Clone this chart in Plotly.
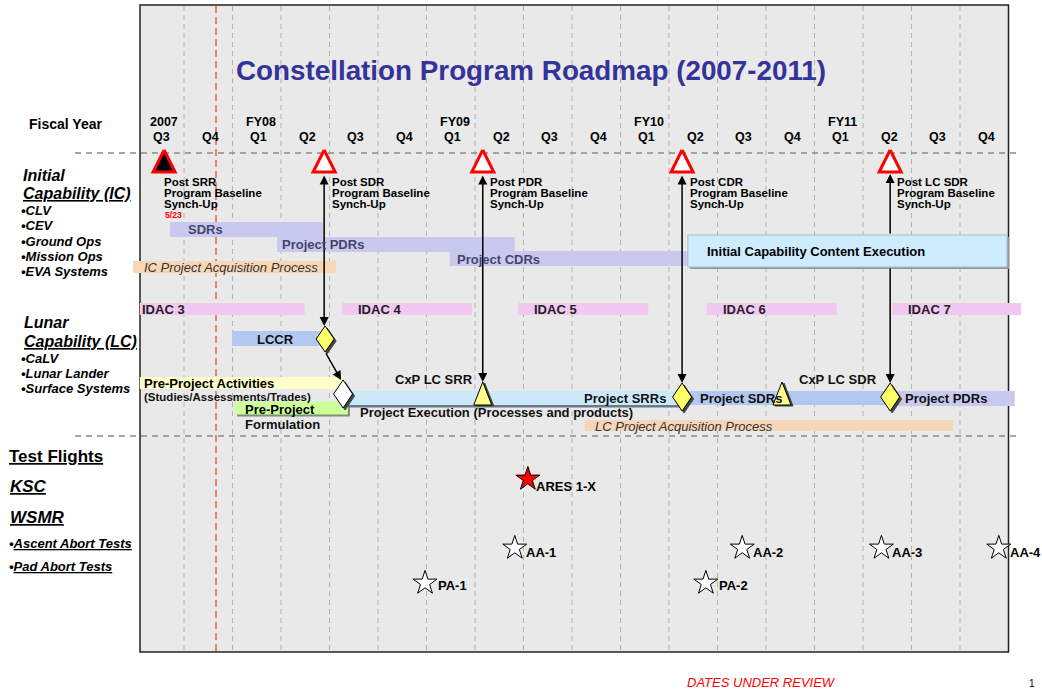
import plotly.graph_objects as go

FONT = "Liberation Sans, Arial, Helvetica, sans-serif"
W, H = 1042, 689
X0, PX = 135.5, 48.5          # pixel of start of first quarter, pixels per quarter

# ------------------------------------------------------------------ data
quarter_labels = ["Q3", "Q4", "Q1", "Q2", "Q3", "Q4", "Q1", "Q2", "Q3", "Q4",
                  "Q1", "Q2", "Q3", "Q4", "Q1", "Q2", "Q3", "Q4"]
year_labels = ["2007", "FY08", "FY09", "FY10", "FY11"]
year_quarters = [0, 2, 6, 10, 14]
today_q = 1.66

ic_systems = ["CLV", "CEV", "Ground Ops", "Mission Ops", "EVA Systems"]
lc_systems = ["CaLV", "Lunar Lander", "Surface Systems"]
test_rows = ["Ascent Abort Tests", "Pad Abort Tests"]

sync_titles = ["Post SRR", "Post SDR", "Post PDR", "Post CDR", "Post LC SDR"]
sync_q = [0.59, 3.89, 7.16, 11.27, 15.56]
sync_date = "5/23"

ic_review_labels = ["SDRs", "Project PDRs", "Project CDRs"]
ic_review_start = [0.71, 2.92, 6.48]
ic_review_end = [3.87, 7.82, 11.39]

ic_acq_label = "IC Project Acquisition Process"
ic_acq_start, ic_acq_end = -0.05, 4.13
icce_label = "Initial Capability Content Execution"
icce_start, icce_end = 11.39, 17.97

idac_labels = ["IDAC 3", "IDAC 4", "IDAC 5", "IDAC 6", "IDAC 7"]
idac_start = [0.09, 4.26, 7.89, 11.78, 15.60]
idac_end = [3.49, 6.94, 10.57, 14.46, 18.26]

lccr_label = "LCCR"
lccr_start, lccr_end = 1.99, 3.80
lccr_gate_q = 3.91
ppa_label = "Pre-Project Activities"
ppa_sub = "(Studies/Assessments/Trades)"
ppa_start, ppa_end = 0.09, 4.28
ppf_label = "Pre-Project"
ppf_sub = "Formulation"
ppf_start, ppf_end = 2.05, 4.38
ppf_gate_q = 4.28
exec_label = "Project Execution (Processes and products)"
lc_exec_labels = ["Project SRRs", "Project SDRs", "Project PDRs"]
lc_exec_start = [4.38, 11.29, 15.56]
lc_exec_end = [11.29, 15.56, 18.13]
lc_gate_q = [11.27, 15.56]
cxp_labels = ["CxP LC SRR", "CxP LC SDR"]
cxp_q = [7.16, 13.33]
lc_acq_label = "LC Project Acquisition Process"
lc_acq_start, lc_acq_end = 9.27, 16.86

flight_names = ["ARES 1-X", "AA-1", "AA-2", "AA-3", "AA-4", "PA-1", "PA-2"]
flight_q = [8.09, 7.82, 12.51, 15.38, 17.80, 5.97, 11.76]
flight_site = ["KSC", "Ascent", "Ascent", "Ascent", "Ascent", "Pad", "Pad"]

# ------------------------------------------------------------------ layout helpers
def q_of(px):
    return (px - X0) / PX

fig = go.Figure()
shapes = []

def label(x, y, text, size=13, color="#000", anchor="left", bold=True, italic=False):
    fig.add_annotation(x=x, y=y, xref="x", yref="y", text=text, showarrow=False,
                       xanchor=anchor, yanchor="middle",
                       font=dict(family=FONT, size=size, color=color,
                                 weight="bold" if bold else "normal",
                                 style="italic" if italic else "normal"))

def bars(starts, ends, ycs, hs, colors, dx=0.0, dy=0.0, line=None):
    fig.add_trace(go.Bar(orientation="h",
                         base=[s + dx / PX for s in starts],
                         x=[e - s for s, e in zip(starts, ends)],
                         y=[y + dy for y in ycs], width=hs,
                         marker=dict(color=colors,
                                     line=line if line else dict(width=0)),
                         hoverinfo="skip", showlegend=False))

def polys(qs, ys, shape, fill, lcol, lw, dx=0.0, dy=0.0):
    xs, yv = [], []
    for q, y in zip(qs, ys):
        for ddx, ddy in shape + [shape[0]]:
            xs.append(q + (ddx + dx) / PX)
            yv.append(y + ddy + dy)
        xs.append(None)
        yv.append(None)
    fig.add_trace(go.Scatter(x=xs, y=yv, mode="lines", fill="toself",
                             fillcolor=fill, line=dict(color=lcol, width=lw),
                             hoverinfo="skip", showlegend=False))

def arrow(qh, yh, qt, yt, both=False):
    fig.add_annotation(x=qh, y=yh, ax=qt, ay=yt, xref="x", yref="y", axref="x", ayref="y",
                       text="", showarrow=True, arrowhead=2, arrowsize=1.2, arrowwidth=1.5,
                       arrowcolor="#000", arrowside="end+start" if both else "end",
                       startarrowhead=2, startarrowsize=1.2, standoff=0, startstandoff=0)

# ------------------------------------------------------------------ panel & grid
shapes.append(dict(type="rect", xref="x", yref="y", x0=q_of(140), x1=len(quarter_labels),
                   y0=5, y1=652, fillcolor="#e9e9e9", line=dict(color="#222", width=1.5),
                   layer="below"))
for k in range(1, len(quarter_labels)):
    shapes.append(dict(type="line", xref="x", yref="y", x0=k, x1=k, y0=6, y1=651,
                       line=dict(color="#b2b2b2", width=1, dash="5px,4px"), layer="below"))
shapes.append(dict(type="line", xref="x", yref="y", x0=today_q, x1=today_q, y0=6, y1=651,
                   line=dict(color="#e0502a", width=1.3, dash="7px,4px"), layer="below"))
for yy in (153, 436):
    shapes.append(dict(type="line", xref="x", yref="y", x0=q_of(75), x1=q_of(1021),
                       y0=yy, y1=yy, line=dict(color="#8a8a8a", width=1.5, dash="6px,5px"),
                       layer="below"))

# ------------------------------------------------------------------ IC bars
bars(ic_review_start, ic_review_end, [229.5, 244.5, 258.5], [15, 15, 15],
     ["#c9c9f0", "#c9c9f0", "#c9c9f0"])
bars([ic_acq_start], [ic_acq_end], [267], [12], ["#f8d6b6"])
bars([icce_start], [icce_end], [251], [32], ["#8d99a6"], dx=2, dy=2)
bars([icce_start], [icce_end], [251], [32], ["#cdecfd"],
     line=dict(color="#a9bccb", width=1))

# IDAC
bars(idac_start, idac_end, [309] * 5, [12] * 5, ["#f0c8f0"] * 5)

# LC bars
bars([lccr_start], [lccr_end], [338.5], [15], ["#b3c8f0"])
bars([ppa_start], [ppa_end], [383], [12], ["#ffffcc"])
bars([ppf_start], [ppf_end], [408], [13], ["#7f8f70"], dx=2, dy=2)
bars([ppf_start], [ppf_end], [408], [13], ["#ccff99"])
bars([lc_acq_start], [lc_acq_end], [425.5], [11], ["#f6d6b8"])
bars([lc_exec_start[0]], [lc_exec_end[0]], [398], [15], ["#6b7a88"], dy=2)
bars(lc_exec_start, lc_exec_end, [398, 398, 398.5], [14, 14, 15],
     ["#cce9fa", "#b3c8f0", "#c9c9f0"])

# ------------------------------------------------------------------ milestone markers
tri_big = [(0, -11), (11, 11), (-11, 11)]
polys(sync_q[:1], [161], tri_big, "#000000", "#ff0000", 3)
polys(sync_q[1:], [161] * 4, tri_big, "#ffffff", "#ff0000", 3)

dia = [(0, -13), (9, 0), (0, 13), (-9, 0)]
dia_big = [(0, -14), (9.5, 0), (0, 14), (-9.5, 0)]
polys([lccr_gate_q], [339], dia, "#444444", "#444444", 1, dx=2, dy=2)
polys([lccr_gate_q], [339], dia, "#ffff66", "#000000", 1)
polys([ppf_gate_q], [394], dia_big, "#444444", "#444444", 1, dx=2, dy=2)
polys([ppf_gate_q], [394], dia_big, "#ffffff", "#000000", 1)
polys(lc_gate_q, [397, 397], dia_big, "#444444", "#444444", 1, dx=2, dy=2)
polys(lc_gate_q, [397, 397], dia_big, "#ffff66", "#000000", 1)

tri_small = [(0, -12), (9, 11), (-9, 11)]
polys(cxp_q, [394, 394], tri_small, "#444444", "#444444", 1, dx=2, dy=1)
polys(cxp_q, [394, 394], tri_small, "#ffff88", "#000000", 1)

# test flights
site_y = {"KSC": 479, "Ascent": 548, "Pad": 583}
fy = [site_y[s] for s in flight_site]
fig.add_trace(go.Scatter(x=flight_q, y=fy, mode="markers",
                         marker=dict(symbol="star", size=18,
                                     color=["#ff0000"] + ["#ffffff"] * (len(flight_q) - 1),
                                     line=dict(color="#000", width=1)),
                         hoverinfo="skip", showlegend=False))

# ------------------------------------------------------------------ arrows
arrow_bottoms = [326, 382, 383, 383]
for q, yb in zip(sync_q[1:], arrow_bottoms):
    if icce_start <= q <= icce_end:
        arrow(q, 174, q, 235)
        arrow(q, yb, q, 267)
    else:
        arrow(q, yb, q, 174, both=True)
arrow(ppf_gate_q - 2 / PX, 380, lccr_gate_q, 352)

# ------------------------------------------------------------------ texts
label(q_of(531), 70, "Constellation Program Roadmap (2007-2011)", size=27.8,
      color="#333399", anchor="center")
label(q_of(65), 124, "Fiscal Year", size=14, anchor="center")
for y_lab, yq in zip(year_labels, year_quarters):
    label(yq + 0.5 + 4 / PX, 122, y_lab, size=12.5, anchor="center")
for i, ql in enumerate(quarter_labels):
    label(i + 0.5 + 2 / PX, 137, ql, size=12.5, anchor="center")

# left side
label(q_of(21), 175, "Initial", size=16, italic=True)
label(q_of(21), 193, "<u>Capability (IC)</u>", size=16, italic=True)
for i, s in enumerate(ic_systems):
    label(q_of(19), 210.5 + 15.3 * i, "•" + s, size=13, italic=True)
label(q_of(22), 322, "Lunar", size=16, italic=True)
label(q_of(22), 341, "<u>Capability (LC)</u>", size=16, italic=True)
for i, s in enumerate(lc_systems):
    label(q_of(19), 358.5 + 15 * i, "•" + s, size=13, italic=True)
label(q_of(7), 456, "<u>Test Flights</u>", size=17)
label(q_of(8), 486, "<u>KSC</u>", size=17, italic=True)
label(q_of(8), 517, "<u>WSMR</u>", size=17, italic=True)
for i, s in enumerate(test_rows):
    label(q_of(7), 543 + 23 * i, "•<u>" + s + "</u>", size=13, italic=True)

# sync-up milestone texts
sync_dx = [-2, 6, 5, 6, 5]
for q, t, d in zip(sync_q, sync_titles, sync_dx):
    for j, line in enumerate([t, "Program Baseline", "Synch-Up"]):
        label(q + d / PX, 181.5 + 11 * j, line, size=11.5)
label(sync_q[0] - 1 / PX, 214.5, sync_date, size=8.7, color="#ff0000")

# IC bar labels
for s, t, d, yy in zip(ic_review_start, ic_review_labels, [16, 3, 5], [229.5, 244.5, 259]):
    label(s + d / PX, yy, t, size=13, color="#45456a")
label(ic_acq_start + 9 / PX, 267, ic_acq_label, size=13, color="#333", bold=False, italic=True)
label(icce_start + 17 / PX, 251, icce_label, size=13)

for s, t, d in zip(idac_start, idac_labels, [0, 14, 14, 14, 14]):
    label(s + d / PX, 309.5, t, size=13, color="#222")

# LC texts
label((lccr_start + lccr_end) / 2, 339, lccr_label, size=13, anchor="center", color="#111")
label(ppa_start + 2 / PX, 383, ppa_label, size=13)
label(ppa_start + 2 / PX, 396.5, ppa_sub, size=11.5, color="#111")
label(ppf_start + 8 / PX, 409, ppf_label, size=13)
label(ppf_start + 8 / PX, 424.5, ppf_sub, size=13, color="#111")
label(lc_exec_start[0] + 10 / PX, 412, exec_label, size=13, color="#111")
label(lc_exec_end[0] - 15 / PX, 398.5, lc_exec_labels[0], size=13, anchor="right", color="#111")
label(lc_exec_start[1] + 15 / PX, 398.5, lc_exec_labels[1], size=13, color="#111")
label(lc_exec_start[2] + 13 / PX, 398.5, lc_exec_labels[2], size=13, color="#111")
label(cxp_q[0] - 8 / PX, 379.5, cxp_labels[0], size=13, anchor="right", color="#111")
label(cxp_q[1] + 97 / PX, 379.5, cxp_labels[1], size=13, anchor="right", color="#111")
label(lc_acq_start + 8 / PX, 426, lc_acq_label, size=13, color="#333", bold=False, italic=True)

# flight labels
for q, y, n in zip(flight_q, fy, flight_names):
    if n == "ARES 1-X":
        label(q + 6 / PX, y + 7, n, size=13)
    elif n.startswith("PA"):
        label(q + 11 / PX, y + 2, n, size=13)
    else:
        label(q + 9 / PX, y + 4, n, size=13)

# footer
label(q_of(761), 682, "DATES UNDER REVIEW", size=13, color="#ff0000", anchor="center",
      bold=False, italic=True)
label(q_of(1032), 683, "1", size=10, anchor="center", bold=False)

fig.update_layout(
    width=W, height=H, margin=dict(l=0, r=0, t=0, b=0),
    paper_bgcolor="#ffffff", plot_bgcolor="#ffffff",
    barmode="overlay", showlegend=False, shapes=shapes,
    xaxis=dict(range=[q_of(0), q_of(W)], visible=False, fixedrange=True),
    yaxis=dict(range=[H, 0], visible=False, fixedrange=True),
)
fig.write_html("out.html", config={"displayModeBar": False},
               post_script="document.body.style.margin='0';document.body.style.overflow='hidden';")
